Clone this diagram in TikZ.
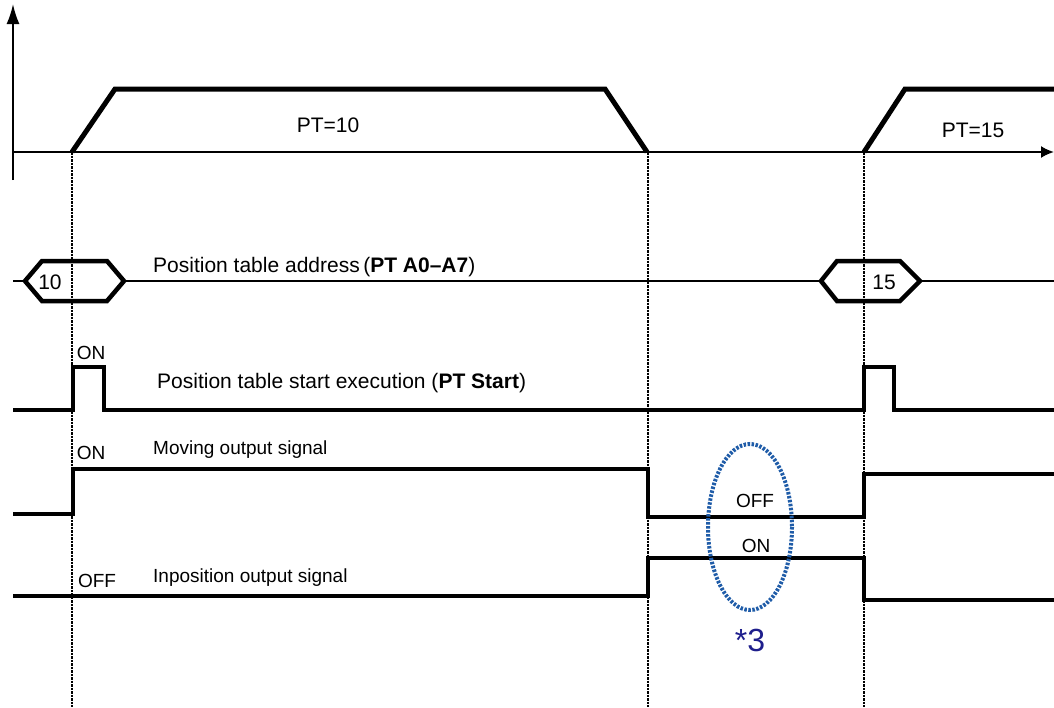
\documentclass[tikz,border=0pt]{standalone}
\usepackage{fontspec}
\setmainfont{Liberation Sans}
\usetikzlibrary{arrows.meta}
\definecolor{ellblue}{HTML}{1F5CA8}
\definecolor{navy}{HTML}{1E1E8C}
\begin{document}
\begin{tikzpicture}[x=1pt,y=-1pt,
  sig/.style={line width=4.5pt, line join=miter},
  prof/.style={line width=5pt, line join=miter},
  ax/.style={line width=2pt},
  bus/.style={line width=1.8pt},
  hexa/.style={line width=4.5pt, line join=miter},
  guide/.style={line width=1.6pt, dash pattern=on 2.5pt off 1pt},
  lbl/.style={font=\fontsize{19}{19}\selectfont, inner sep=0pt},
  mid/.style={font=\fontsize{21}{21}\selectfont, inner sep=0pt},
  big/.style={font=\fontsize{21}{21}\selectfont, inner sep=0pt},
  mark3/.style={font=\fontsize{32}{32}\selectfont, inner sep=0pt, text=navy}]
\useasboundingbox (0,0) rectangle (1054,707);
% guide coordinates
\coordinate (g1t) at (72,152);  \coordinate (g1b) at (72,707);
\coordinate (g2t) at (648,152); \coordinate (g2b) at (648,707);
\coordinate (g3t) at (864,152); \coordinate (g3b) at (864,707);
\draw[guide] (g1t) -- (g1b);
\draw[guide] (g2t) -- (g2b);
\draw[guide] (g3t) -- (g3b);
% axes
\coordinate (ya0) at (13,180); \coordinate (ya1) at (13,4);
\coordinate (xa0) at (13,152); \coordinate (xa1) at (1054,152);
\draw[ax,-{Latex[length=20pt,width=13pt]}] (ya0) -- (ya1);
\draw[ax,-{Latex[length=13pt,width=12pt]}] (xa0) -- (xa1);
% speed profiles
\draw[prof] (72,152) -- (115,89) -- (605,89) -- (647,152);
\draw[prof] (864,152) -- (905,89) -- (1054,89);
\node[big] (pt10) at (328,125) {PT=10};
\node[big] (pt15) at (973,130) {PT=15};
% address bus
\draw[bus] (13,281) -- (25,281);
\draw[bus] (124,281) -- (821,281);
\draw[bus] (920,281) -- (1054,281);
\draw[hexa] (25,281) -- (42,261) -- (107,261) -- (124,281) -- (107,301) -- (42,301) -- cycle;
\draw[hexa] (821,281) -- (837,261) -- (900,261) -- (920,281) -- (900,301) -- (837,301) -- cycle;
\node[big] (a10) at (50,282) {10};
\node[big] (a15) at (884,282) {15};
\node[mid, anchor=west] (addr) at (153,267) {Position table address\,(\textbf{PT A0\textendash A7})};
% PT start
\draw[sig] (13,410) -- (73,410) -- (73,367) -- (104,367) -- (104,410) -- (864,410) -- (864,367) -- (894,367) -- (894,410) -- (1054,410);
\node[lbl] (on1) at (91,353) {ON};
\node[mid, anchor=west] (start) at (157,383) {Position table start execution (\textbf{PT Start})};
% moving
\draw[sig] (13,514) -- (73,514) -- (73,469) -- (648,469) -- (648,517) -- (864,517) -- (864,474) -- (1054,474);
\node[lbl] (on2) at (91,453) {ON};
\node[lbl, anchor=west] (mov) at (153,450) {Moving output signal};
% inposition
\draw[sig] (13,596) -- (648,596) -- (648,558) -- (864,558) -- (864,600) -- (1054,600);
\node[lbl] (off1) at (97,581) {OFF};
\node[lbl, anchor=west] (inp) at (153,578) {Inposition output signal};
\node[lbl] (off2) at (755,501) {OFF};
\node[lbl] (on3) at (756,546) {ON};
% ellipse
\draw[ellblue, line width=4pt, dash pattern=on 2.5pt off 1.5pt] (750,527) ellipse [x radius=42, y radius=83];
\node[mark3] (m3) at (750,640) {*3};
\end{tikzpicture}
\end{document}
